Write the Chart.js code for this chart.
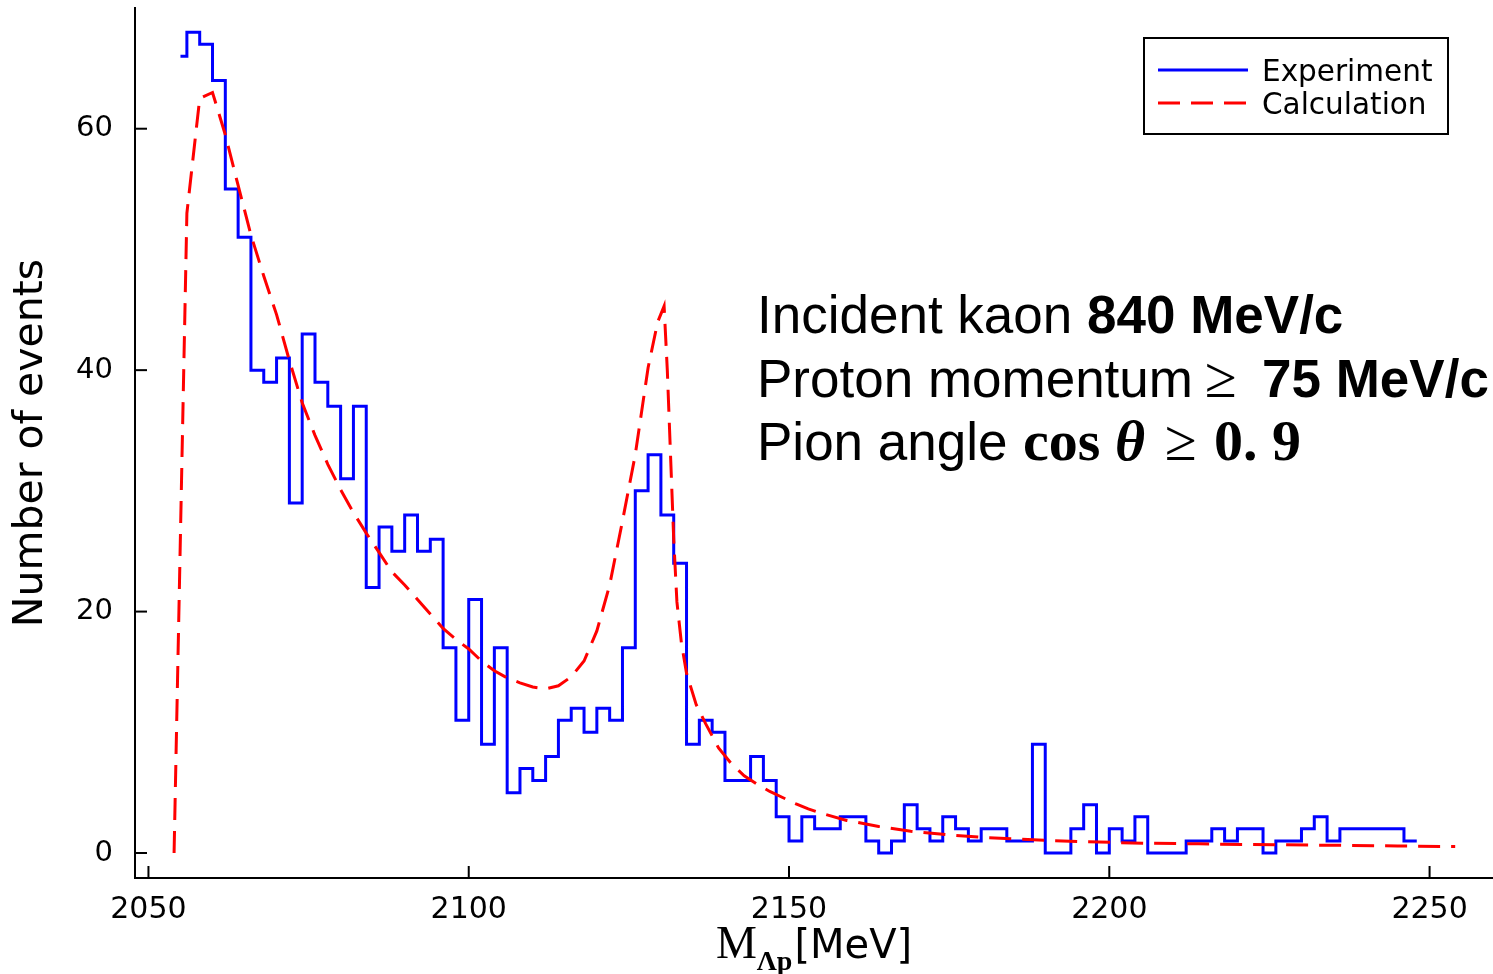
<!DOCTYPE html>
<html><head><meta charset="utf-8">
<script src="https://cdn.jsdelivr.net/npm/chart.js@4.4.1/dist/chart.umd.min.js"></script>
<style>html,body{margin:0;padding:0;background:#fff;overflow:hidden}canvas{display:block}</style>
</head><body>
<canvas id="c" width="1493" height="974"></canvas>
<script>
// Histogram bin edges (MeV) and counts per bin
const binEdges = [2055,2056,2058,2060,2062,2064,2066,2068,2070,2072,2074,2076,2078,2080,2082,2084,2086,2088,2090,2092,2094,2096,2098,2100,2102,2104,2106,2108,2110,2112,2114,2116,2118,2120,2122,2124,2126,2128,2130,2132,2134,2136,2138,2140,2142,2144,2146,2148,2150,2152,2154,2156,2158,2160,2162,2164,2166,2168,2170,2172,2174,2176,2178,2180,2182,2184,2186,2188,2190,2192,2194,2196,2198,2200,2202,2204,2206,2208,2210,2212,2214,2216,2218,2220,2222,2224,2226,2228,2230,2232,2234,2236,2238,2240,2242,2244,2246,2248];
const experimentCounts = [66,68,67,64,55,51,40,39,41,29,43,39,37,31,37,22,27,25,28,25,26,17,11,21,9,17,5,7,6,8,11,12,10,12,11,17,30,33,28,24,9,11,10,6,6,8,6,3,1,3,2,2,3,3,1,0,1,4,2,1,3,2,1,2,2,1,1,9,0,0,2,4,0,2,1,3,0,0,0,1,1,2,1,2,2,0,1,1,2,3,1,2,2,2,2,2,1];
// Calculated spectrum
const calcMass = [2054,2056,2058,2060,2062,2064,2066,2068,2070,2072,2074,2076,2078,2080,2082,2084,2086,2088,2090,2092,2094,2096,2098,2100,2102,2104,2106,2108,2110,2112,2114,2116,2118,2120,2122,2124,2126,2128,2129.5,2130.5,2131,2131.5,2132,2132.5,2133.2,2134,2135.5,2137,2139,2141,2143,2145,2147,2149,2151,2153,2155,2159,2164,2169,2175,2180,2186,2191,2196,2201,2206,2214,2222,2235,2245,2254];
const calcEvents = [0,53,62.5,63,59.5,55.3,51.2,47.8,44.6,40.8,37.3,34.6,32.2,30.1,28.2,26.5,24.9,23.3,22.2,21,19.8,18.6,17.7,16.9,15.9,15.1,14.5,14.1,13.75,13.6,13.85,14.6,15.9,18.4,22.2,27.5,33,40.2,44,45.3,40,33,26,20.8,17.4,14.9,12.3,10.7,8.7,7.4,6.4,5.7,5.1,4.6,4.1,3.65,3.3,2.7,2.2,1.8,1.5,1.3,1.15,1.02,0.94,0.87,0.81,0.76,0.7,0.64,0.58,0.53];
const xTickValues = [2050,2100,2150,2200,2250];
const yTickValues = [0,20,40,60];
const seriesLabels = ['Experiment','Calculation'];
const yAxisTitle = 'Number of events';

const histPoints = binEdges.map((e,i)=>({x:e, y:experimentCounts[Math.min(i, experimentCounts.length-1)]}));
const calcPoints = calcMass.map((m,i)=>({x:m, y:calcEvents[i]}));

function drawRuns(ctx, x, y, runs){
  for (const r of runs){
    ctx.font = r.font;
    if (r.at !== undefined) x = r.at;
    if (r.dx) x += r.dx;
    ctx.fillText(r.t, x, (r.dy||0)+y);
    x += ctx.measureText(r.t).width;
  }
  return x;
}
function runsWidth(ctx, runs){
  let w=0; for (const r of runs){ ctx.font=r.font; w += (r.dx||0) + ctx.measureText(r.t).width; } return w;
}

const decorations = {
  id:'decorations',
  afterDraw(chart){
    const {ctx, chartArea:a, scales:{x,y}} = chart;
    ctx.save();
    ctx.strokeStyle='#000'; ctx.lineWidth=2;
    x.ticks.forEach(t=>{const p=x.getPixelForValue(t.value); ctx.beginPath(); ctx.moveTo(p,a.bottom); ctx.lineTo(p,a.bottom-12); ctx.stroke();});
    y.ticks.forEach(t=>{const p=y.getPixelForValue(t.value); ctx.beginPath(); ctx.moveTo(a.left,p); ctx.lineTo(a.left+12,p); ctx.stroke();});
    // x axis title
    ctx.fillStyle='#000'; ctx.textBaseline='alphabetic'; ctx.textAlign='left';
    const xt = [
      {t:'M', font:'46px "Liberation Serif"'},
      {t:'\u039Bp', font:'bold 28px "Liberation Serif"', dy:12},
      {t:'[MeV]', font:'40px "DejaVu Sans"', dx:2}
    ];
    const cx = (a.left+a.right)/2;
    drawRuns(ctx, cx - runsWidth(ctx,xt)/2, 958, xt);
    // annotation
    const sans='53px "Liberation Sans"', bsans='bold 53px "Liberation Sans"';
    const bser='bold 58px "Liberation Serif"', biser='italic bold 58px "Liberation Serif"', ser='58px "Liberation Serif"';
    drawRuns(ctx, 757, 333, [{t:'Incident kaon ', font:sans},{t:'840 MeV/c', font:bsans}]);
    drawRuns(ctx, 757, 397, [{t:'Proton momentum', font:sans},{t:'\u2265', font:ser, at:1205},{t:'75 MeV/c', font:bsans, at:1262}]);
    drawRuns(ctx, 757, 460, [{t:'Pion angle ', font:sans},{t:'cos', font:bser, at:1023},{t:'\u03B8', font:biser, at:1115},{t:'\u2265', font:ser, at:1165},{t:'0. 9', font:bser, at:1214}]);
    // legend
    ctx.fillStyle='#fff'; ctx.fillRect(1144,38,304,96);
    ctx.strokeStyle='#000'; ctx.lineWidth=2; ctx.strokeRect(1144,38,304,96);
    const ds = chart.data.datasets;
    const rows=[{y:70, base:81},{y:103, base:113.5}];
    ds.forEach((d,i)=>{
      ctx.save();
      ctx.strokeStyle=d.borderColor; ctx.lineWidth=d.borderWidth; ctx.setLineDash(d.borderDash||[]);
      ctx.beginPath(); ctx.moveTo(1158,rows[i].y); ctx.lineTo(1248,rows[i].y); ctx.stroke();
      ctx.restore();
      ctx.fillStyle='#000'; ctx.font='29.5px "DejaVu Sans"'; ctx.fillText(d.label, 1262, rows[i].base);
    });
    ctx.restore();
  }
};

new Chart(document.getElementById('c'), {
  type:'line',
  data:{datasets:[
    {label:seriesLabels[0], data:histPoints, borderColor:'#0000FF', borderWidth:3, stepped:'before', pointRadius:0, fill:false, order:2},
    {label:seriesLabels[1], data:calcPoints, borderColor:'#FF0000', borderWidth:3, borderDash:[22,11], pointRadius:0, fill:false, tension:0, order:1}
  ]},
  options:{
    responsive:false, animation:false, devicePixelRatio:1,
    layout:{padding:{top:8,left:0,right:0,bottom:0}},
    plugins:{legend:{display:false}, tooltip:{enabled:false}},
    scales:{
      x:{type:'linear', min:2047.9, max:2259.9,
         afterBuildTicks:s=>{s.ticks=xTickValues.map(v=>({value:v}));},
         afterFit:s=>{s.height=96; s.paddingLeft=0; s.paddingRight=0;},
         grid:{display:true, drawOnChartArea:false, drawTicks:false},
         border:{display:true, color:'#000', width:2},
         ticks:{padding:14, color:'#000', font:{family:'DejaVu Sans', size:30}, maxRotation:0, callback:v=>String(v)}},
      y:{type:'linear', min:-2.07, max:70.0,
         afterBuildTicks:s=>{s.ticks=yTickValues.map(v=>({value:v}));},
         afterFit:s=>{s.width=135; s.paddingTop=0; s.paddingBottom=0;},
         grid:{display:true, drawOnChartArea:false, drawTicks:false},
         border:{display:true, color:'#000', width:2},
         title:{display:true, text:yAxisTitle, color:'#000', font:{family:'DejaVu Sans', size:41}, padding:{top:7,bottom:0}},
         ticks:{padding:22, color:'#000', font:{family:'DejaVu Sans', size:29}, callback:v=>String(v)}}
    }
  },
  plugins:[decorations]
});
</script>
</body></html>
